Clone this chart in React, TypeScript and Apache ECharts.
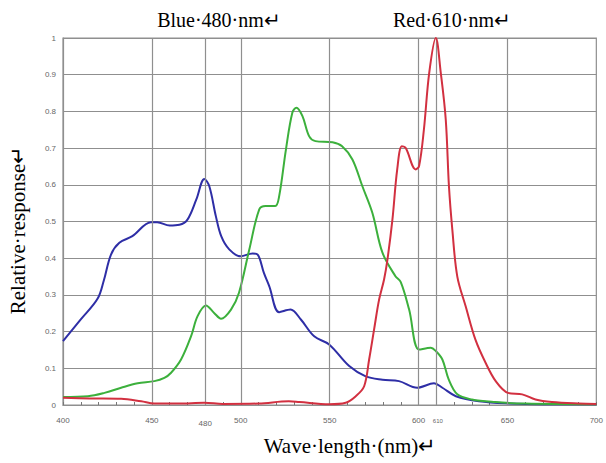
import React, { useEffect, useRef } from "react";
import * as echarts from "echarts";

const blueWavelength = [400, 410, 419.5, 423, 427, 431.7, 439, 449.5, 453, 460, 465.5, 470, 475, 479.5, 482.3, 486, 489, 493.5, 500, 506.6, 509.5, 513, 516, 521.6, 528, 533.8, 541.3, 549.7, 561, 570.3, 579.7, 589, 599.3, 608.7, 613.4, 621, 634, 651, 670, 700];
const blueResponse = [0.174, 0.233, 0.29, 0.34, 0.41, 0.442, 0.46, 0.498, 0.498, 0.489, 0.491, 0.505, 0.56, 0.616, 0.596, 0.514, 0.46, 0.424, 0.405, 0.413, 0.41, 0.36, 0.324, 0.253, 0.26, 0.233, 0.187, 0.165, 0.106, 0.078, 0.069, 0.065, 0.047, 0.059, 0.047, 0.024, 0.01, 0.004, 0.002, 0.002];

const greenWavelength = [400, 414, 423.3, 432.7, 442, 451.4, 457, 460.8, 466.4, 472, 475.7, 480.4, 485, 488.9, 494.5, 499, 504.8, 510.4, 514, 519.4, 521.6, 525.4, 529, 531.3, 534.7, 538.5, 542, 551.6, 557, 562.8, 568.4, 574, 579.7, 587, 590, 594.7, 600.3, 606.9, 609.7, 613.4, 617, 621.8, 630, 643, 660, 700];
const greenResponse = [0.022, 0.024, 0.033, 0.047, 0.059, 0.065, 0.074, 0.088, 0.124, 0.187, 0.242, 0.271, 0.251, 0.235, 0.26, 0.306, 0.424, 0.533, 0.542, 0.542, 0.569, 0.696, 0.796, 0.81, 0.787, 0.732, 0.719, 0.716, 0.705, 0.669, 0.596, 0.524, 0.415, 0.351, 0.335, 0.26, 0.151, 0.156, 0.147, 0.124, 0.069, 0.029, 0.015, 0.008, 0.004, 0.002];

const redWavelength = [400, 415, 432.7, 444, 451.4, 465, 479.5, 490, 510, 527, 533, 549.7, 559, 564.7, 569.4, 572.2, 575, 577.8, 580.6, 582.5, 585.3, 588, 590.6, 592.8, 598.4, 600.3, 603, 606, 609.7, 612.5, 615.3, 617.1, 619, 621.8, 626.5, 632, 637.7, 643.4, 650.3, 658.3, 665.8, 675, 690, 700];
const redResponse = [0.02, 0.018, 0.017, 0.01, 0.004, 0.004, 0.006, 0.003, 0.004, 0.01, 0.008, 0.002, 0.006, 0.024, 0.051, 0.124, 0.206, 0.287, 0.342, 0.396, 0.505, 0.642, 0.705, 0.7, 0.642, 0.651, 0.75, 0.905, 1.0, 0.905, 0.778, 0.596, 0.478, 0.35, 0.269, 0.178, 0.115, 0.065, 0.033, 0.029, 0.015, 0.008, 0.004, 0.003];

const xLabelValues = [400, 450, 480, 500, 550, 600, 610, 650, 700];
const verticalGridValues = [450, 480, 500, 550, 600, 610, 650];
const downTickValues = [480, 610];

const blueTitle = "Blue\u00B7480\u00B7nm\u21B5";
const redTitle = "Red\u00B7610\u00B7nm\u21B5";
const xTitle = "Wave\u00B7length\u00B7(nm)\u21B5";
const yTitle = "Relative\u00B7response\u21B5";

const zip = (xs: number[], ys: number[]) => xs.map((x, i) => [x, ys[i]]);

export default function App() {
  const ref = useRef<HTMLDivElement>(null);
  useEffect(() => {
    if (!ref.current) return;
    const chart = echarts.init(ref.current, null, { renderer: "svg" });
    const gridColor = "#8f8f8f";
    const serif = "'Liberation Serif', 'Times New Roman', serif";
    const lineSeries = (name: string, data: number[][], color: string, z: number) => ({
      name,
      type: "line",
      data,
      smooth: 0.35,
      showSymbol: false,
      symbol: "none",
      z,
      lineStyle: { color, width: 2 },
    });
    chart.setOption({
      animation: false,
      backgroundColor: "#ffffff",
      grid: {
        left: 63,
        top: 38,
        width: 534,
        height: 367,
        show: true,
        borderColor: gridColor,
        borderWidth: 1.2,
        backgroundColor: "transparent",
      },
      xAxis: {
        type: "value",
        min: 400,
        max: 700,
        interval: 10,
        axisLine: { show: true, lineStyle: { color: gridColor, width: 1.2 } },
        axisTick: { show: true, inside: true, length: 3, lineStyle: { color: "#777" } },
        splitLine: { show: false },
        axisLabel: {
          color: "#666",
          fontSize: 8,
          fontFamily: "Arial, 'Liberation Sans', sans-serif",
          margin: 11,
          showMinLabel: true,
          showMaxLabel: true,
          formatter: (v: number) => {
            const r = Math.round(v);
            if (!xLabelValues.includes(r)) return "";
            if (r === 480) return "{low|480}";
            if (r === 610) return "{small|610}";
            return String(r);
          },
          rich: {
            low: { fontSize: 8, color: "#666", padding: [3, 0, 0, 0] },
            small: { fontSize: 6, color: "#666", padding: [2, 0, 0, 3] },
          },
        },
      },
      yAxis: {
        type: "value",
        min: 0,
        max: 1,
        interval: 0.1,
        axisLine: { show: true, lineStyle: { color: gridColor, width: 1.2 } },
        axisTick: { show: false },
        splitLine: { show: true, lineStyle: { color: gridColor, width: 1.2 } },
        axisLabel: {
          color: "#666",
          fontSize: 8,
          fontFamily: "Arial, 'Liberation Sans', sans-serif",
          margin: 7,
          formatter: (v: number) => {
            const r = Math.round(v * 10) / 10;
            if (r === 0) return "0";
            if (r === 1) return "1";
            return r.toFixed(1);
          },
        },
      },
      graphic: [
        {
          type: "text",
          x: 219,
          y: 20,
          style: { text: blueTitle, font: `20px ${serif}`, fill: "#000", textAlign: "center", textVerticalAlign: "middle" },
        },
        {
          type: "text",
          x: 452,
          y: 20,
          style: { text: redTitle, font: `20px ${serif}`, fill: "#000", textAlign: "center", textVerticalAlign: "middle" },
        },
        {
          type: "text",
          x: 350,
          y: 446,
          style: { text: xTitle, font: `21px ${serif}`, fill: "#000", textAlign: "center", textVerticalAlign: "middle" },
        },
        {
          type: "text",
          x: 18,
          y: 230,
          rotation: Math.PI / 2,
          style: { text: yTitle, font: `21px ${serif}`, fill: "#000", textAlign: "center", textVerticalAlign: "middle" },
        },
      ],
      series: [
        {
          type: "line",
          data: [],
          silent: true,
          markLine: {
            silent: true,
            symbol: "none",
            label: { show: false },
            lineStyle: { color: gridColor, width: 1.2, type: "solid" },
            data: [
              ...verticalGridValues.map((v) => ({ xAxis: v })),
              ...downTickValues.map((v) => [{ coord: [v, 0] }, { coord: [v, -0.027] }]),
            ],
          },
        },
        lineSeries("Blue", zip(blueWavelength, blueResponse), "#2e2ea6", 3),
        lineSeries("Green", zip(greenWavelength, greenResponse), "#3cb03c", 4),
        lineSeries("Red", zip(redWavelength, redResponse), "#d23040", 5),
      ],
    });
    return () => chart.dispose();
  }, []);
  return <div ref={ref} style={{ position: "fixed", left: 0, top: 0, width: 606, height: 463 }} />;
}
